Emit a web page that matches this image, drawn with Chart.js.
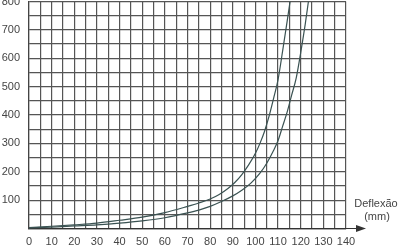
<!DOCTYPE html>
<html>
<head>
<meta charset="utf-8">
<script src="https://cdn.jsdelivr.net/npm/chart.js@4/dist/chart.umd.min.js"></script>
<style>
    html, body { margin: 0; padding: 0; background: #fff; }
    #wrap { width: 400px; height: 250px; position: relative; }
</style>
</head>
<body>
<div id="wrap"><canvas id="myChart" width="400" height="250"></canvas></div>
<script>
// deflexão (mm) x carga
const curvaAx = [0, 10, 20, 30, 40, 50, 60, 70, 75, 80, 84, 88, 91, 94, 97, 100, 102, 104, 106, 108, 110, 112, 114, 115.3]
const curvaAy = [3, 8, 13, 19, 29, 40, 56, 78, 90, 104, 120, 142, 163, 190, 224, 265, 300, 342, 395, 458, 525, 625, 730, 800]
const curvaBx = [0, 10, 20, 30, 40, 50, 60, 70, 75, 80, 85, 90, 94, 98, 102, 105, 108, 110, 112, 114, 116, 118, 120, 122, 123.4]
const curvaBy = [2, 5, 9, 13, 19, 27, 38, 55, 65, 78, 95, 115, 135, 160, 195, 230, 275, 310, 360, 410, 470, 530, 620, 720, 800]
const xTicks = [0, 10, 20, 30, 40, 50, 60, 70, 80, 90, 100, 110, 120, 130, 140]
const yTicks = [100, 200, 300, 400, 500, 600, 700, 800]
const xLabel = ['Deflexão', '(mm)']

const lineColor = '#3a5252'
const gridColor = '#555555'
const textColor = '#454545'

const toPoints = (xs, ys) => xs.map((x, i) => ({ x: x, y: ys[i] }))

// seta do eixo x e legenda "Deflexão (mm)"
const axisArrow = {
    id: 'axisArrow',
    afterDraw(chart) {
        const ctx = chart.ctx
        const area = chart.chartArea
        const y = area.bottom
        const tip = area.right + 20
        ctx.save()
        ctx.strokeStyle = '#333'
        ctx.lineWidth = 1
        ctx.beginPath()
        ctx.moveTo(area.right, y)
        ctx.lineTo(tip - 6, y)
        ctx.stroke()
        ctx.fillStyle = '#333'
        ctx.beginPath()
        ctx.moveTo(tip, y)
        ctx.lineTo(tip - 10, y - 3.5)
        ctx.lineTo(tip - 10, y + 3.5)
        ctx.closePath()
        ctx.fill()
        ctx.fillStyle = textColor
        ctx.font = '11px "Liberation Sans", Arial, sans-serif'
        ctx.textAlign = 'center'
        ctx.textBaseline = 'middle'
        ctx.fillText(xLabel[0], area.right + 30, 204)
        ctx.fillText(xLabel[1], area.right + 31, 217)
        ctx.restore()
    }
}

const curveStyle = {
    showLine: true,
    borderColor: lineColor,
    borderWidth: 1.2,
    pointRadius: 0,
    cubicInterpolationMode: 'monotone'
}

const config = {
    type: 'scatter',
    data: {
        datasets: [
            { ...curveStyle, data: toPoints(curvaAx, curvaAy) },
            { ...curveStyle, data: toPoints(curvaBx, curvaBy) }
        ]
    },
    options: {
        responsive: false,
        animation: false,
        clip: false,
        layout: { padding: { top: 1.5, right: 54, bottom: 0, left: 0 } },
        plugins: {
            legend: { display: false },
            tooltip: { enabled: false }
        },
        scales: {
            x: {
                type: 'linear',
                min: 0,
                max: 140,
                afterBuildTicks: scale => {
                    scale.ticks = []
                    for (let v = 0; v <= 140; v += 5) scale.ticks.push({ value: v })
                },
                afterFit: scale => {
                    scale.height = 21.5
                    scale.paddingLeft = 0
                    scale.paddingRight = 0
                },
                ticks: {
                    autoSkip: false,
                    maxRotation: 0,
                    padding: 7,
                    color: textColor,
                    font: { family: '"Liberation Sans", Arial, sans-serif', size: 11 },
                    callback: v => xTicks.includes(v) ? v : ''
                },
                grid: { color: gridColor, lineWidth: 1.2, drawTicks: false },
                border: { color: '#333', width: 1.2 }
            },
            y: {
                min: 0,
                max: 800,
                afterBuildTicks: scale => {
                    scale.ticks = []
                    for (let v = 0; v <= 800; v += 50) scale.ticks.push({ value: v })
                },
                afterFit: scale => {
                    scale.width = 29
                    scale.paddingTop = 0
                    scale.paddingBottom = 0
                },
                ticks: {
                    autoSkip: false,
                    padding: 9,
                    color: textColor,
                    font: { family: '"Liberation Sans", Arial, sans-serif', size: 11 },
                    callback: v => yTicks.includes(v) ? v : ''
                },
                grid: { color: gridColor, lineWidth: 1.2, drawTicks: false },
                border: { color: '#444', width: 1.2 }
            }
        }
    },
    plugins: [axisArrow]
}

let myChart = new Chart(document.getElementById('myChart'), config)
</script>
</body>
</html>
